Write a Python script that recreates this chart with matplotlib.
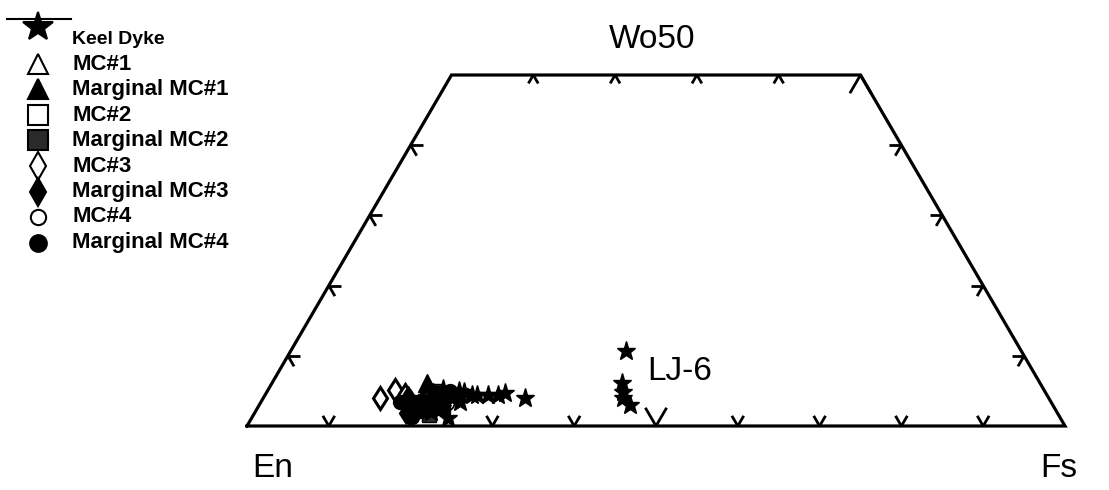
import matplotlib
matplotlib.use('Agg')
import matplotlib.pyplot as plt
from matplotlib.lines import Line2D

plt.rcParams['font.family'] = ['Liberation Sans', 'DejaVu Sans']

# compositions in mol% (Wo, Fs); En = 100 - Wo - Fs
keel_wo = [10.7, 6.1, 4.8, 4.0, 3.0, 4.4, 4.4, 4.4, 4.7, 4.0, 1.1, 4.0, 4.4, 3.7, 4.0, 3.4,
           2.6, 4.6, 4.9, 2.0, 5.2, 5.0]
keel_fs = [41.0, 42.8, 43.6, 44.0, 45.3, 25.9, 27.3, 28.5, 29.2, 32.0, 24.0, 23.1, 25.3, 21.7, 20.4, 24.3,
           22.5, 22.6, 24.1, 21.5, 21.4, 23.4]

mc1_wo = [4.5, 3.5]
mc1_fs = [19.8, 21.0]
mmc1_wo = [6.1, 4.0, 3.7, 4.8]
mmc1_fs = [19.0, 19.4, 21.2, 20.3]

mc2_wo = [3.0, 3.8]
mc2_fs = [20.8, 22.3]
mmc2_wo = [3.1, 3.4, 2.3, 2.8, 3.9, 5.0, 1.5]
mmc2_fs = [19.6, 21.4, 21.0, 22.6, 20.6, 20.5, 21.5]

mc3_wo = [4.0, 5.1, 4.4]
mc3_fs = [14.3, 15.5, 17.1]
mmc3_wo = [3.7, 3.0, 2.6, 4.2, 1.8]
mmc3_fs = [18.1, 19.4, 18.9, 17.6, 18.5]

mc4_wo = [3.3, 2.8]
mc4_fs = [22.8, 20.1]
mmc4_wo = [3.4, 2.6, 3.4, 2.2, 3.9, 1.3, 5.0]
mmc4_fs = [18.8, 22.3, 17.0, 20.2, 22.0, 19.5, 22.3]

labels = ['Keel Dyke', 'MC#1', 'Marginal MC#1', 'MC#2', 'Marginal MC#2',
          'MC#3', 'Marginal MC#3', 'MC#4', 'Marginal MC#4']

bottom_ticks = [10, 20, 30, 40, 50, 60, 70, 80, 90]
side_ticks = [10, 20, 30, 40]
top_ticks = [10, 20, 30, 40, 50]


def tern(wo, fs):
    # En-Fs along the base, Wo upwards (quadrilateral cut at Wo50)
    wo = list(wo) if hasattr(wo, '__len__') else [wo]
    fs = list(fs) if hasattr(fs, '__len__') else [fs]
    return [f + w / 2 for w, f in zip(wo, fs)], list(wo)


fig = plt.figure(figsize=(11.09, 4.90), dpi=100)
W, H = 1109, 490
ax = fig.add_axes([247 / W, 64 / H, 818 / W, 351 / H])
ax.set_xlim(0, 100)
ax.set_ylim(0, 50)
ax.axis('off')

# outline: En - Fs - Fs50 - Wo50 - En
ox, oy = tern([0, 0, 50, 50, 0], [0, 100, 50, 0, 0])
ax.plot(ox, oy, color='black', lw=2.3, solid_joinstyle='miter', clip_on=False)


def tick(wo, fs, arms, length):
    for dwo, dfs in arms:
        x, y = tern([wo, wo + dwo * length], [fs, fs + dfs * length])
        ax.plot(x, y, color='black', lw=2.0, clip_on=False, solid_capstyle='butt')


# arms point along lines parallel to the other edges
for f in bottom_ticks:
    tick(0, f, [(1, -1), (1, 0)], 2.6 if f == 50 else 1.45)
for w in side_ticks:
    tick(w, 0, [(0, 1), (-1, 1)], 1.5)
    tick(w, 100 - w, [(0, -1), (-1, 0)], 1.5)
for f in top_ticks:
    tick(50, f, [(-1, 0), (-1, 1)], 2.6 if f == 50 else 1.2)

kw = dict(linestyle='none', clip_on=False, markeredgecolor='black')
ax.plot(*tern(mc1_wo, mc1_fs), marker='^', ms=12, mfc='white', mew=1.3, **kw)
ax.plot(*tern(mc2_wo, mc2_fs), marker='s', ms=10, mfc='white', mew=1.3, **kw)
ax.plot(*tern(mc4_wo, mc4_fs), marker='o', ms=10, mfc='white', mew=1.3, **kw)
ax.plot(*tern(mc3_wo, mc3_fs), marker='d', ms=11.5, mfc='white', mew=2.2, **kw)
ax.plot(*tern(mmc2_wo, mmc2_fs), marker='s', ms=10, mfc='#2a2a2a', **kw)
ax.plot(*tern(mmc4_wo, mmc4_fs), marker='o', ms=10, mfc='black', **kw)
ax.plot(*tern(mmc3_wo, mmc3_fs), marker='d', ms=11.5, mfc='black', **kw)
ax.plot(*tern(mmc1_wo, mmc1_fs), marker='^', ms=13, mfc='black', **kw)
ax.plot(*tern(keel_wo, keel_fs), marker='*', ms=14, mfc='black', **kw)

fig.text(652 / W, 1 - 39 / H, 'Wo50', fontsize=24, ha='center', va='center')
fig.text(273 / W, 1 - 468 / H, 'En', fontsize=24, ha='center', va='center')
fig.text(1059 / W, 1 - 468 / H, 'Fs', fontsize=24, ha='center', va='center')
fig.text(647 / W, 1 - 371 / H, 'LJ-6', fontsize=24, ha='left', va='center')

# legend drawn by hand
leg_markers = ['*', '^', '^', 's', 's', 'd', 'd', 'o', 'o']
leg_faces = ['black', 'white', 'black', 'white', '#2a2a2a', 'white', 'black', 'white', 'black']
leg_sizes = [22, 15, 15, 14, 14, 14, 14, 11, 12]
leg_font = [14, 16, 16, 16, 16, 16, 16, 16, 16]
row_y = [40, 64, 89.5, 115, 140.5, 166, 191.5, 217, 242.5]
fig.add_artist(Line2D([7 / W, 71 / W], [1 - 19 / H, 1 - 19 / H], color='black', lw=1.5))
for i, lab in enumerate(labels):
    my = 27 if i == 0 else row_y[i]
    fig.add_artist(Line2D([38 / W], [1 - my / H], marker=leg_markers[i], ms=leg_sizes[i],
                          mfc=leg_faces[i], mec='black', mew=1.5, linestyle='none'))
    fig.text(72 / W, 1 - row_y[i] / H, lab, fontsize=leg_font[i], fontweight='bold',
             ha='left', va='center')

fig.savefig('out.png', dpi=100, facecolor='white')
